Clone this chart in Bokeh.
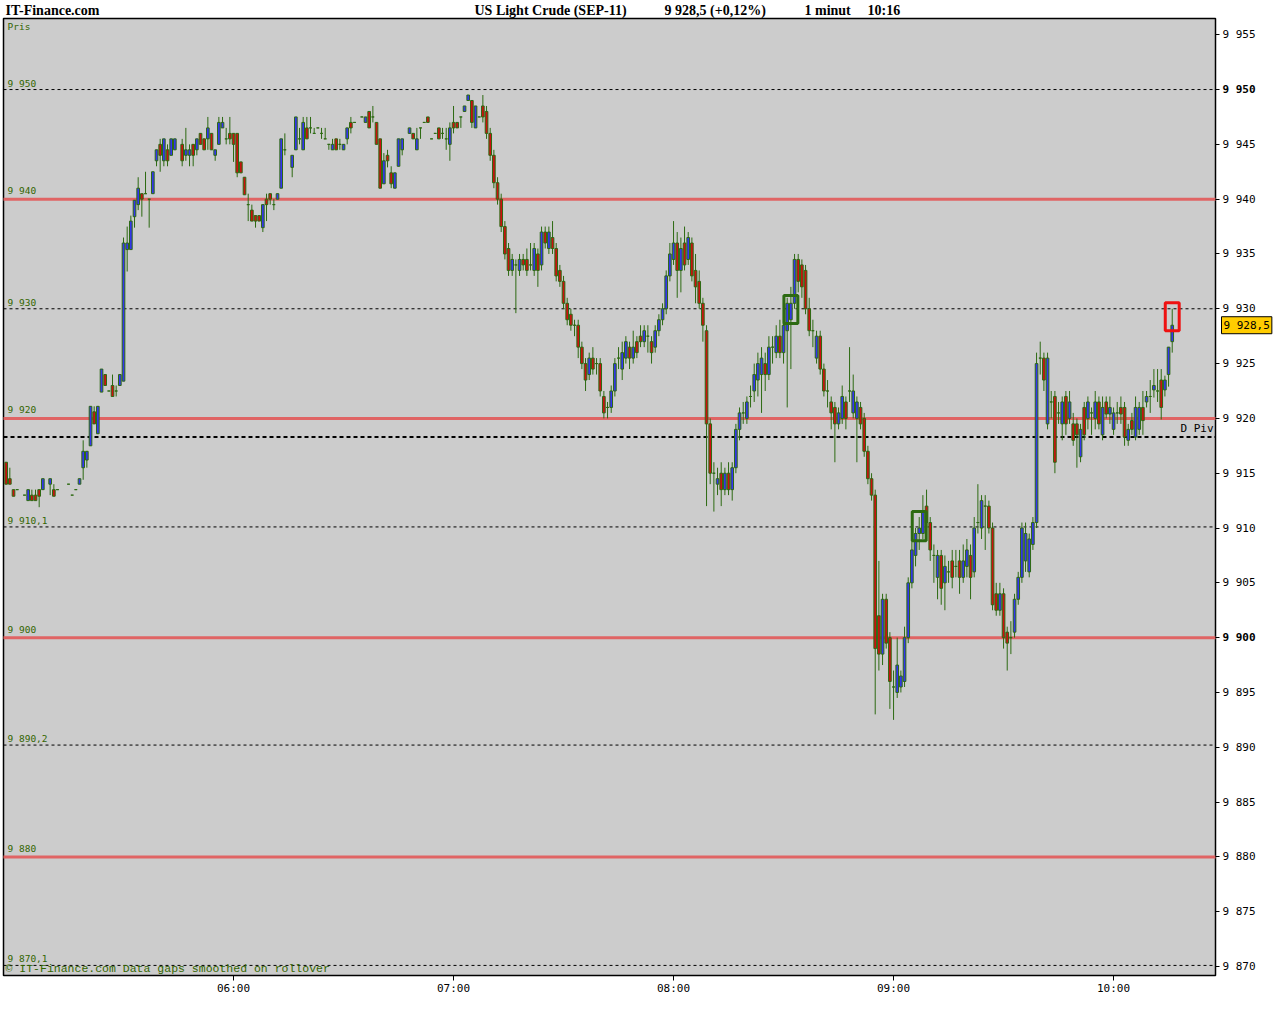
import numpy as np
from bokeh.plotting import figure
from bokeh.models import ColumnDataSource, Range1d, LinearAxis, FixedTicker, Label, BoxAnnotation
from bokeh.embed import file_html
from bokeh.resources import INLINE

# ---------------- data ----------------
first_minute = -2          # first bar = 04:58 (minutes after 05:00), one bar per minute, last = 10:16
opens = [
 9916.0, 9914.5, 9913.5, 9913.5, None, 9913.0, 9912.5, 9913.0, 9913.0, 9913.5,
 9913.5, None, 9914.0, 9913.5, 9913.5, None, None, 9914.0, 9913.0, 9913.5,
 9914.0, 9915.5, 9916.2, 9917.5, 9920.6, 9918.6, 9922.4, 9924.0, 9922.5, 9923.0,
 9922.5, 9923.0, 9923.4, 9935.4, 9935.4, 9938.4, 9939.5, 9940.5, 9940.5, 9940.0,
 9940.5, 9943.5, 9945.0, 9943.5, 9944.5, 9944.0, 9944.5, None, 9945.0, 9944.0,
 9944.0, 9945.0, 9944.5, 9946.0, 9945.5, 9945.5, 9946.0, 9944.0, 9945.0, 9946.5,
 9945.5, 9946.0, 9946.0, 9946.0, 9943.4, 9942.0, 9939.5, 9939.0, 9938.5, 9938.5,
 9937.4, 9940.0, 9940.5, 9939.5, 9940.0, 9941.0, 9944.5, None, 9942.9, 9944.5,
 9945.5, 9944.5, 9946.5, 9946.5, 9946.0, 9946.5, 9946.0, 9945.5, 9945.0, 9944.5,
 9945.5, 9945.0, 9944.5, 9945.5, 9947.0, 9947.0, None, 9947.5, 9947.0, 9948.0,
 9947.5, 9947.0, 9945.5, 9941.4, 9944.0, 9942.4, 9941.0, 9943.0, 9944.5, None,
 9946.0, 9946.0, 9944.5, 9946.5, 9947.0, 9947.5, 9945.5, 9946.0, 9946.5, 9946.0,
 9945.5, 9945.0, 9947.0, 9947.0, 9947.5, 9948.0, 9949.0, 9949.0, 9946.5, 9947.5,
 9948.5, 9948.0, 9946.0, 9944.0, 9941.5, 9940.0, 9937.5, 9935.5, 9933.5, 9934.0,
 9933.5, 9934.5, 9934.5, 9934.0, 9933.5, 9935.0, 9934.0, 9937.0, 9935.5, 9936.5,
 9935.5, 9933.5, 9932.5, 9930.5, 9929.5, 9928.5, 9928.5, 9926.5, 9925.0, 9924.0,
 9925.5, 9925.0, 9925.0, 9922.0, 9921.0, 9921.0, 9922.5, 9925.5, 9924.5, 9925.5,
 9926.5, 9925.5, 9927.0, 9927.5, 9927.0, 9927.5, 9927.0, 9926.5, 9928.0, 9929.0,
 9930.0, 9933.0, 9934.5, 9936.0, 9933.5, 9936.0, 9934.5, 9936.0, 9933.5, 9932.5,
 9930.5, 9928.0, 9919.5, 9915.0, 9914.0, 9915.0, 9913.5, 9915.0, 9913.5, 9915.5,
 9919.0, 9920.5, 9920.0, 9922.0, 9922.5, 9923.5, 9924.0, 9925.0, 9924.0, 9926.5,
 9926.0, 9927.5, 9926.0, 9928.0, 9929.0, 9930.5, 9934.5, 9934.0, 9933.5, 9930.0,
 9928.0, 9925.5, 9927.5, 9924.5, 9922.5, 9921.5, 9921.0, 9919.5, 9920.0, 9921.5,
 9922.5, 9920.5, 9920.0, 9921.0, 9920.0, 9917.0, 9914.5, 9913.0, 9902.0, 9898.5,
 9903.5, 9900.0, 9895.5, 9895.0, 9895.5, 9896.0, 9900.0, 9905.0, 9907.5, 9909.5,
 9909.5, 9912.0, 9910.5, 9907.5, 9905.5, 9907.5, 9905.0, 9906.0, 9907.0, 9906.5,
 9907.0, 9905.5, 9906.5, 9907.5, 9906.0, 9910.5, 9910.0, 9912.0, 9912.0, 9910.0,
 9904.0, 9902.5, 9904.0, 9900.5, 9900.0, 9900.5, 9903.5, 9905.5, 9907.0, 9906.0,
 9908.5, 9910.5, 9925.5, 9925.5, 9919.5, 9921.5, 9922.0, 9920.5, 9919.5, 9922.0,
 9920.0, 9919.5, 9919.5, 9916.5, 9921.0, 9920.0, 9920.5, 9920.0, 9921.5, 9918.5,
 9921.5, 9920.4, 9919.0, 9920.5, 9921.0, 9921.0, 9918.0, 9919.8, 9918.3, 9919.0,
 9921.0, 9921.5, 9922.0, 9922.6, 9922.5, 9923.5, 9922.6, 9924.0, 9927.0,
]
highs = [
 9916.0, 9915.5, 9913.5, 9913.5, None, 9913.0, 9913.5, 9913.5, 9913.5, 9913.5,
 9914.5, None, 9914.5, 9914.0, 9913.5, None, None, 9914.0, 9913.0, 9913.5,
 9914.5, 9918.0, 9917.0, 9921.1, 9921.1, 9921.1, 9924.5, 9924.0, 9922.5, 9924.0,
 9923.0, 9924.0, 9936.5, 9937.5, 9938.5, 9939.9, 9942.0, 9940.5, 9942.5, 9940.0,
 9942.5, 9944.5, 9945.5, 9945.5, 9945.0, 9945.5, 9945.5, None, 9945.5, 9946.5,
 9945.0, 9945.0, 9945.5, 9946.0, 9945.5, 9947.5, 9946.0, 9944.5, 9947.5, 9947.5,
 9946.5, 9947.5, 9946.0, 9946.0, 9943.4, 9942.0, 9940.5, 9939.5, 9938.5, 9938.5,
 9939.5, 9940.5, 9940.5, 9940.0, 9940.5, 9945.5, 9946.0, None, 9944.0, 9947.5,
 9946.5, 9947.5, 9947.5, 9947.5, 9946.5, 9946.5, 9946.5, 9946.5, 9945.0, 9945.5,
 9945.5, 9945.5, 9945.0, 9946.5, 9947.5, 9947.0, None, 9947.5, 9947.5, 9948.0,
 9948.5, 9947.0, 9945.5, 9944.2, 9944.5, 9943.0, 9942.4, 9945.5, 9945.5, None,
 9946.5, 9946.0, 9946.5, 9946.5, 9947.0, 9947.5, 9945.5, 9946.0, 9946.5, 9946.5,
 9946.5, 9947.0, 9948.5, 9947.0, 9947.5, 9948.5, 9949.5, 9949.0, 9948.5, 9947.5,
 9949.5, 9948.5, 9946.5, 9944.5, 9942.0, 9940.5, 9938.0, 9936.0, 9935.0, 9934.5,
 9935.0, 9935.0, 9935.5, 9936.0, 9936.0, 9935.5, 9937.5, 9937.5, 9937.5, 9938.0,
 9936.0, 9934.0, 9933.0, 9931.0, 9930.0, 9929.0, 9929.0, 9927.0, 9925.5, 9926.0,
 9926.5, 9925.5, 9925.5, 9922.5, 9921.5, 9923.0, 9925.5, 9926.5, 9927.0, 9927.5,
 9927.0, 9928.0, 9927.5, 9928.5, 9928.5, 9928.5, 9927.5, 9928.5, 9929.5, 9930.5,
 9933.5, 9936.0, 9938.0, 9937.0, 9936.5, 9937.5, 9937.0, 9936.5, 9935.0, 9933.5,
 9931.0, 9928.5, 9920.0, 9916.0, 9915.5, 9916.0, 9915.5, 9916.0, 9916.0, 9919.5,
 9921.0, 9921.5, 9922.0, 9923.0, 9925.0, 9926.0, 9926.5, 9926.0, 9927.5, 9927.5,
 9928.5, 9929.0, 9929.5, 9931.0, 9932.0, 9935.0, 9935.0, 9934.5, 9934.0, 9931.0,
 9929.0, 9928.0, 9928.0, 9925.0, 9923.5, 9922.0, 9921.5, 9921.0, 9923.0, 9922.0,
 9926.5, 9924.0, 9922.0, 9921.5, 9920.5, 9917.5, 9915.0, 9913.5, 9907.0, 9904.0,
 9904.0, 9900.5, 9897.0, 9900.0, 9897.0, 9901.0, 9905.5, 9909.0, 9910.0, 9911.0,
 9913.0, 9913.5, 9911.0, 9908.5, 9908.0, 9908.0, 9907.5, 9907.0, 9908.0, 9908.0,
 9908.0, 9908.5, 9909.0, 9908.5, 9911.0, 9914.0, 9913.0, 9913.0, 9912.5, 9910.5,
 9905.0, 9905.0, 9904.5, 9901.0, 9901.5, 9904.0, 9906.0, 9910.5, 9910.5, 9909.5,
 9911.0, 9926.0, 9927.0, 9926.0, 9926.0, 9922.5, 9922.5, 9921.5, 9922.0, 9922.5,
 9922.5, 9920.5, 9920.0, 9919.5, 9921.5, 9922.0, 9921.0, 9922.5, 9922.0, 9922.0,
 9922.0, 9922.0, 9921.0, 9921.5, 9922.0, 9921.5, 9919.5, 9920.5, 9922.0, 9921.5,
 9922.5, 9922.5, 9923.5, 9924.5, 9924.5, 9924.5, 9923.9, 9926.5, 9930.0,
]
lows = [
 9914.0, 9914.0, 9912.9, 9913.5, None, 9913.0, 9912.5, 9912.5, 9912.5, 9911.9,
 9913.5, None, 9913.0, 9912.9, 9913.5, None, None, 9914.0, 9913.0, 9913.5,
 9914.0, 9914.4, 9915.5, 9917.5, 9919.5, 9918.6, 9922.4, 9923.0, 9922.5, 9922.0,
 9922.0, 9923.0, 9923.4, 9933.4, 9935.4, 9937.4, 9939.0, 9938.4, 9940.5, 9937.4,
 9940.5, 9943.0, 9942.5, 9943.0, 9943.0, 9944.0, 9944.5, None, 9943.0, 9943.5,
 9943.0, 9943.0, 9944.0, 9945.0, 9944.5, 9944.5, 9944.5, 9943.5, 9945.0, 9946.5,
 9945.0, 9945.0, 9943.4, 9942.0, 9942.4, 9940.4, 9938.0, 9938.0, 9937.4, 9938.0,
 9937.0, 9938.0, 9939.5, 9939.0, 9940.0, 9941.0, 9944.0, None, 9942.0, 9944.5,
 9945.0, 9944.5, 9945.5, 9946.0, 9946.0, 9946.5, 9945.5, 9945.5, 9944.5, 9944.5,
 9944.5, 9944.5, 9944.5, 9945.0, 9946.0, 9947.0, None, 9947.5, 9947.0, 9946.5,
 9947.0, 9945.0, 9941.0, 9941.4, 9942.9, 9941.0, 9941.0, 9943.0, 9944.0, None,
 9946.0, 9945.5, 9944.5, 9945.5, 9947.0, 9947.0, 9945.5, 9946.0, 9945.5, 9945.5,
 9944.5, 9943.5, 9946.0, 9946.5, 9946.5, 9948.0, 9949.0, 9946.5, 9946.5, 9947.5,
 9947.0, 9945.5, 9943.5, 9941.0, 9939.5, 9937.0, 9934.5, 9933.0, 9933.0, 9929.6,
 9933.0, 9933.5, 9933.0, 9933.5, 9933.0, 9932.0, 9933.5, 9935.5, 9935.0, 9935.0,
 9932.5, 9932.0, 9930.0, 9928.5, 9928.0, 9927.5, 9925.5, 9924.5, 9922.5, 9923.5,
 9924.0, 9924.0, 9922.0, 9920.0, 9920.0, 9920.5, 9922.0, 9924.5, 9923.5, 9925.0,
 9924.5, 9925.0, 9925.5, 9926.5, 9926.5, 9926.0, 9925.0, 9926.0, 9927.5, 9928.5,
 9929.5, 9932.5, 9934.0, 9931.0, 9931.5, 9933.5, 9934.0, 9932.5, 9930.5, 9930.0,
 9927.0, 9912.0, 9914.0, 9911.5, 9913.0, 9912.0, 9913.0, 9913.0, 9912.5, 9915.0,
 9918.0, 9919.5, 9919.5, 9921.0, 9921.5, 9922.0, 9920.5, 9922.5, 9923.5, 9925.0,
 9925.5, 9925.5, 9925.0, 9921.0, 9924.5, 9930.0, 9931.5, 9931.0, 9929.5, 9927.5,
 9926.5, 9925.0, 9924.0, 9922.0, 9921.0, 9919.0, 9916.0, 9919.0, 9919.5, 9919.0,
 9921.5, 9920.0, 9916.0, 9919.0, 9916.5, 9914.0, 9912.5, 9893.0, 9897.0, 9897.5,
 9899.0, 9893.5, 9892.5, 9894.5, 9895.0, 9895.5, 9899.5, 9904.5, 9906.5, 9908.0,
 9909.0, 9910.0, 9907.0, 9905.0, 9903.5, 9903.0, 9902.5, 9905.0, 9904.5, 9905.5,
 9904.0, 9905.0, 9905.5, 9903.5, 9905.5, 9909.5, 9909.0, 9908.0, 9909.5, 9902.5,
 9902.0, 9902.0, 9899.0, 9897.0, 9898.5, 9900.0, 9903.0, 9905.0, 9906.0, 9905.5,
 9908.0, 9910.0, 9924.0, 9922.5, 9919.0, 9920.0, 9915.0, 9919.5, 9918.0, 9918.5,
 9919.5, 9917.5, 9915.5, 9916.0, 9918.0, 9919.0, 9918.5, 9919.0, 9919.0, 9918.0,
 9920.0, 9919.5, 9918.5, 9919.5, 9919.5, 9917.5, 9917.5, 9918.5, 9918.0, 9918.5,
 9918.5, 9921.0, 9920.5, 9921.9, 9921.5, 9919.9, 9922.0, 9922.9, 9926.0,
]
closes = [
 9914.0, 9914.0, 9912.9, 9913.5, None, 9913.0, 9913.5, 9912.5, 9912.5, 9912.9,
 9914.5, None, 9914.5, 9912.9, 9913.5, None, None, 9914.0, 9913.0, 9913.5,
 9914.5, 9917.0, 9917.0, 9921.1, 9919.5, 9921.1, 9924.5, 9923.0, 9922.5, 9922.0,
 9922.5, 9924.0, 9936.0, 9936.0, 9938.0, 9939.9, 9941.0, 9940.0, 9940.5, 9940.0,
 9942.5, 9944.5, 9944.0, 9945.5, 9943.5, 9945.5, 9945.5, None, 9943.5, 9944.5,
 9944.5, 9944.0, 9945.5, 9945.0, 9944.5, 9946.5, 9944.5, 9944.5, 9947.0, 9947.0,
 9945.5, 9945.5, 9945.0, 9942.4, 9942.4, 9940.4, 9939.5, 9938.0, 9938.0, 9938.0,
 9939.5, 9939.5, 9940.0, 9939.5, 9940.5, 9945.5, 9944.5, None, 9944.0, 9947.5,
 9945.5, 9947.0, 9945.5, 9946.5, 9946.0, 9946.5, 9946.0, 9945.5, 9945.0, 9945.0,
 9944.5, 9945.0, 9945.0, 9946.5, 9946.5, 9947.0, None, 9947.5, 9947.5, 9946.5,
 9947.5, 9945.0, 9941.0, 9943.5, 9943.5, 9941.4, 9942.4, 9945.5, 9945.5, None,
 9946.5, 9945.5, 9945.5, 9946.5, 9947.0, 9947.0, 9945.5, 9946.0, 9945.5, 9946.0,
 9945.5, 9946.5, 9946.5, 9946.5, 9947.5, 9948.5, 9949.5, 9947.0, 9948.5, 9947.5,
 9947.5, 9946.0, 9944.0, 9941.5, 9940.0, 9937.5, 9935.0, 9933.5, 9934.5, 9934.0,
 9934.5, 9934.0, 9933.5, 9934.0, 9935.5, 9933.5, 9937.0, 9936.0, 9937.0, 9935.5,
 9933.0, 9932.5, 9930.5, 9929.0, 9928.5, 9928.5, 9926.5, 9925.0, 9923.5, 9925.5,
 9924.5, 9925.0, 9922.5, 9920.5, 9921.0, 9922.5, 9925.0, 9925.5, 9926.0, 9927.0,
 9925.5, 9926.5, 9926.0, 9927.0, 9928.0, 9927.5, 9926.0, 9928.0, 9929.0, 9930.0,
 9933.0, 9935.0, 9936.0, 9933.5, 9935.5, 9934.0, 9936.5, 9933.0, 9932.0, 9930.5,
 9928.5, 9919.5, 9915.0, 9915.0, 9914.5, 9913.5, 9915.0, 9913.5, 9915.5, 9919.0,
 9920.5, 9920.5, 9921.5, 9922.0, 9924.0, 9925.0, 9925.5, 9924.0, 9926.5, 9926.5,
 9927.5, 9926.0, 9928.5, 9930.5, 9930.5, 9934.5, 9932.5, 9932.0, 9930.0, 9928.0,
 9928.0, 9927.5, 9924.5, 9922.5, 9922.5, 9920.5, 9919.5, 9920.5, 9922.0, 9920.0,
 9922.5, 9922.5, 9921.5, 9919.5, 9917.0, 9914.5, 9913.0, 9899.0, 9898.5, 9903.5,
 9899.5, 9896.0, 9895.5, 9897.5, 9896.5, 9900.0, 9905.0, 9908.0, 9909.5, 9910.0,
 9911.5, 9910.5, 9908.0, 9907.5, 9907.5, 9904.5, 9906.5, 9906.0, 9905.5, 9906.5,
 9905.5, 9907.0, 9908.0, 9905.5, 9910.0, 9910.5, 9912.5, 9912.0, 9910.0, 9903.0,
 9902.5, 9904.0, 9900.0, 9899.5, 9900.0, 9903.5, 9905.5, 9910.0, 9909.5, 9909.0,
 9910.5, 9925.0, 9925.5, 9923.5, 9925.5, 9921.5, 9916.0, 9920.5, 9921.5, 9919.5,
 9921.5, 9918.0, 9918.5, 9919.0, 9918.5, 9921.5, 9920.5, 9921.5, 9919.5, 9921.0,
 9920.4, 9921.0, 9920.5, 9920.5, 9920.4, 9918.3, 9919.0, 9919.0, 9921.0, 9921.0,
 9919.8, 9922.0, 9922.0, 9923.0, 9922.5, 9921.0, 9923.5, 9926.5, 9928.5,
]

dotted_levels = [9950.0, 9930.0, 9910.1, 9890.2, 9870.1]
dotted_labels = ["9 950", "9 930", "9 910,1", "9 890,2", "9 870,1"]
red_levels = [9940.0, 9920.0, 9900.0, 9880.0]
red_labels = ["9 940", "9 920", "9 900", "9 880"]
pivot_level = 9918.3
pivot_label = "D Piv"

signal_minutes = [212, 247, 316]
signal_lows = [9928.65, 9908.85, 9928.0]
signal_highs = [9931.2, 9911.5, 9930.55]
signal_kinds = ["buy", "buy", "sell"]

price_ticks = [9870, 9875, 9880, 9885, 9890, 9895, 9900, 9905, 9910, 9915,
               9920, 9925, 9930, 9935, 9940, 9945, 9950, 9955]
price_tick_labels = ["9 870", "9 875", "9 880", "9 885", "9 890", "9 895", "9 900", "9 905",
                     "9 910", "9 915", "9 920", "9 925", "9 930", "9 935", "9 940", "9 945",
                     "9 950", "9 955"]
bold_ticks = [9900, 9950]
time_ticks = [60, 120, 180, 240, 300]
time_labels = ["06:00", "07:00", "08:00", "09:00", "10:00"]

title_parts = ["IT-Finance.com", "US Light Crude (SEP-11)", "9 928,5 (+0,12%)", "1 minut", "10:16"]
footer_text = "\u00a9 IT-Finance.com Data gaps smoothed on rollover"
panel_label = "Pris"

assert len(opens) == len(highs) == len(lows) == len(closes)

# ---------------- styling / geometry ----------------
GREEN = "#2d6a12"
TXT_GREEN = "#336600"
BLUE = "#3434f0"
RED = "#cc1010"
LEVEL_RED = "#e06464"
MONO = "DejaVu Sans Mono"

W, H = 1275, 1000          # canvas
BL, BT = 3, 18             # chart box left / top (pixels)
FW, FH = 1212, 957         # chart box size (pixels)
X0, X1 = -2.73, 327.8      # minutes shown inside the chart box
Y0, Y1 = 9869.18, 9956.48  # prices shown inside the chart box
SX = FW / (X1 - X0)
SY = FH / (Y1 - Y0)

o = np.array(opens, dtype=float)
h = np.array(highs, dtype=float)
l = np.array(lows, dtype=float)
c = np.array(closes, dtype=float)
t = np.arange(len(c)) + first_minute
fill = np.where(c > o, BLUE, np.where(c < o, RED, GREEN))
src = ColumnDataSource(dict(t=t, o=o, h=h, l=l, c=c,
                            top=np.maximum(o, c), bottom=np.minimum(o, c), fill=fill))

# the plotting frame covers the whole canvas; the grey chart box is drawn inside it
p = figure(width=W, height=H,
           x_range=Range1d(X0 - BL / SX, X0 + (W - BL) / SX),
           y_range=Range1d(Y0 - (H - BT - FH) / SY, Y1 + BT / SY),
           output_backend="svg", toolbar_location=None,
           x_axis_location=None, y_axis_location=None,
           min_border=0, min_border_left=0, min_border_right=0,
           min_border_top=0, min_border_bottom=0,
           background_fill_color="white", border_fill_color="white",
           outline_line_color=None)
p.grid.visible = False

p.add_layout(BoxAnnotation(left=X0, right=X1, bottom=Y0, top=Y1, fill_color="#cccccc",
                           fill_alpha=1.0, line_color="black", line_width=1.5,
                           line_alpha=1.0, level="underlay"))

# axes, pinned to the chart box edges
xaxis = LinearAxis(ticker=FixedTicker(ticks=time_ticks), fixed_location=Y0,
                   major_label_overrides={tk: lb for tk, lb in zip(time_ticks, time_labels)},
                   axis_line_color=None, major_tick_in=0, major_tick_out=5,
                   minor_tick_line_color=None, major_tick_line_color="black",
                   major_label_standoff=1, major_label_text_font=MONO,
                   major_label_text_font_size="11px", major_label_text_color="black")
p.add_layout(xaxis, "below")

yover = {tk: ("" if tk in bold_ticks else lb) for tk, lb in zip(price_ticks, price_tick_labels)}
yaxis = LinearAxis(ticker=FixedTicker(ticks=price_ticks), fixed_location=X1,
                   major_label_overrides=yover,
                   axis_line_color=None, major_tick_in=0, major_tick_out=4,
                   minor_tick_line_color=None, major_tick_line_color="black",
                   major_label_standoff=3, major_label_text_font=MONO,
                   major_label_text_font_size="11px", major_label_text_color="black")
p.add_layout(yaxis, "right")
for tk, lb in zip(price_ticks, price_tick_labels):
    if tk in bold_ticks:
        p.add_layout(Label(x=BL + FW + 7, x_units="screen", y=tk, text=lb, text_font=MONO,
                           text_font_size="11px", text_font_style="bold",
                           text_baseline="middle", text_align="left", text_color="black"))

# level lines across the chart box
n_dot, n_red = len(dotted_levels), len(red_levels)
p.segment(x0=[X0] * n_dot, x1=[X1] * n_dot, y0=dotted_levels, y1=dotted_levels,
          line_color="black", line_width=1, line_dash="3 3")
p.segment(x0=[X0] * n_red, x1=[X1] * n_red, y0=red_levels, y1=red_levels,
          line_color=LEVEL_RED, line_width=3)
p.segment(x0=[X0], x1=[X1], y0=[pivot_level], y1=[pivot_level],
          line_color="black", line_width=2, line_dash="4 3")

for lv, lb in zip(dotted_levels, dotted_labels):
    p.add_layout(Label(x=BL + 4, x_units="screen", y=lv, y_offset=1, text=lb, text_font=MONO,
                       text_font_size="9.5px", text_color=TXT_GREEN, text_baseline="bottom"))
for lv, lb in zip(red_levels, red_labels):
    p.add_layout(Label(x=BL + 4, x_units="screen", y=lv, y_offset=3, text=lb, text_font=MONO,
                       text_font_size="9.5px", text_color=TXT_GREEN, text_baseline="bottom"))
p.add_layout(Label(x=BL + FW - 2, x_units="screen", y=pivot_level, y_offset=2, text=pivot_label,
                   text_font=MONO, text_font_size="11px", text_color="black",
                   text_align="right", text_baseline="bottom"))

# candles
p.segment(x0="t", y0="l", x1="t", y1="h", source=src, line_color=GREEN, line_width=1)
p.vbar(x="t", width=0.72, top="top", bottom="bottom", source=src,
       fill_color="fill", line_color=GREEN, line_width=1)

# signal boxes
sig_col = [GREEN if k == "buy" else "#ee1111" for k in signal_kinds]
sig_src = ColumnDataSource(dict(left=np.array(signal_minutes) - 1.9,
                                right=np.array(signal_minutes) + 1.9,
                                bottom=signal_lows, top=signal_highs, col=sig_col))
p.quad(left="left", right="right", bottom="bottom", top="top", source=sig_src,
       fill_color=None, line_color="col", line_width=3)

# last price tag
last = closes[-1]
last_txt = f"{last:,.1f}".replace(",", " ").replace(".", ",")
p.add_layout(Label(x=BL + FW + 6, x_units="screen", y=last, text=last_txt, text_font=MONO,
                   text_font_size="11px", text_color="black", text_baseline="middle",
                   background_fill_color="#ffcc00", border_line_color="black",
                   border_line_width=1, padding=2))

# header / footer texts
title_x = [5, 474, 664, 804, 867]
for xx, tx in zip(title_x, title_parts):
    p.add_layout(Label(x=xx, x_units="screen", y=H - 2, y_units="screen", text=tx,
                       text_font="Liberation Serif", text_font_style="bold",
                       text_font_size="14px", text_color="black", text_baseline="top"))
p.add_layout(Label(x=BL + 4, x_units="screen", y=Y1, y_offset=-2, text=panel_label, text_font=MONO,
                   text_font_size="9.5px", text_color=TXT_GREEN, text_baseline="top"))
p.add_layout(Label(x=BL + 2, x_units="screen", y=Y0, y_offset=1, text=footer_text,
                   text_font="Liberation Mono", text_font_size="11.5px",
                   text_color=TXT_GREEN, text_baseline="bottom"))

open("out.html", "w").write(file_html(p, INLINE))
